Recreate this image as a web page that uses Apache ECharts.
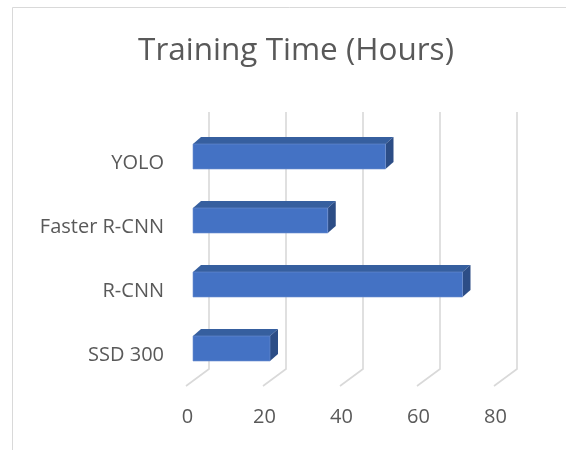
<!DOCTYPE html>
<html>
<head>
<meta charset="utf-8">
<script src="https://cdn.jsdelivr.net/npm/echarts@6/dist/echarts.min.js"></script>
<style>html,body{margin:0;padding:0;background:#fff}#c{width:566px;height:450px}</style>
</head>
<body>
<div id="c"></div>
<script>
var categories = ['SSD 300', 'R-CNN', 'Faster R-CNN', 'YOLO'];
var values = [20, 70, 35, 50];
var tickValues = [0, 20, 40, 60, 80];
var FONT = 'Open Sans';

var chart = echarts.init(document.getElementById('c'), null, {renderer: 'canvas'});

function renderBar(params, api) {
  var idx = api.value(0);
  var v = api.value(1);
  var left = api.coord([0, idx]);
  var right = api.coord([v, idx]);
  var h = 25, dx = 8, dy = 7;
  var x0 = left[0], x1 = right[0];
  var yt = left[1] - h / 2, yb = left[1] + h / 2;
  return {
    type: 'group',
    children: [
      {type: 'polygon', shape: {points: [[x0, yt], [x0 + dx, yt - dy], [x1 + dx, yt - dy], [x1, yt]]},
       style: {fill: '#365F9F'}},
      {type: 'polygon', shape: {points: [[x1, yt], [x1 + dx, yt - dy], [x1 + dx, yb - dy], [x1, yb]]},
       style: {fill: '#2C4D86'}},
      {type: 'rect', shape: {x: x0, y: yt, width: x1 - x0, height: h},
       style: {fill: '#4472C4', stroke: '#6d8fd0', lineWidth: 0.6}}
    ]
  };
}

function renderGrid(params, api) {
  var v = api.value(0);
  var cs = params.coordSys;
  var x = api.coord([v, 0])[0];
  var top = cs.y - 12.5;
  var bot = cs.y + cs.height - 11.5;
  return {
    type: 'polyline',
    shape: {points: [[x + 16, top], [x + 16, bot], [x - 7, bot + 17]]},
    style: {stroke: '#d9d9d9', lineWidth: 1.6, fill: null}
  };
}

var barData = values.map(function (v, i) { return [i, v]; });
var gridData = tickValues.map(function (v) { return [v]; });

chart.setOption({
  backgroundColor: '#ffffff',
  animation: false,
  graphic: [{
    type: 'polyline',
    shape: {points: [[12.5, 460], [12.5, 7.5], [580, 7.5]]},
    style: {stroke: '#d9d9d9', lineWidth: 1, fill: null},
    z: 0
  }],
  title: {
    text: 'Training Time (Hours)',
    left: 291,
    top: 30,
    textAlign: 'center',
    textStyle: {fontFamily: FONT, fontSize: 31.5, fontWeight: 'normal', color: '#595959'}
  },
  grid: {left: 193, right: 65, top: 124.5, bottom: 69.5, containLabel: false},
  xAxis: {
    type: 'value', min: 0, max: 80, interval: 20,
    axisLine: {show: false}, axisTick: {show: false}, splitLine: {show: false},
    axisLabel: {fontFamily: FONT, fontSize: 20, color: '#595959', margin: 27, padding: [0, 11, 0, 0]}
  },
  yAxis: {
    type: 'category', data: categories,
    axisLine: {show: false}, axisTick: {show: false}, splitLine: {show: false},
    axisLabel: {fontFamily: FONT, fontSize: 20, color: '#595959', margin: 29,
      verticalAlign: 'top', lineHeight: 14}
  },
  series: [
    {type: 'custom', renderItem: renderGrid, data: gridData, encode: {x: 0}, z: 1, silent: true},
    {type: 'custom', renderItem: renderBar, data: barData, encode: {y: 0, x: 1}, z: 2}
  ]
});
</script>
</body>
</html>
